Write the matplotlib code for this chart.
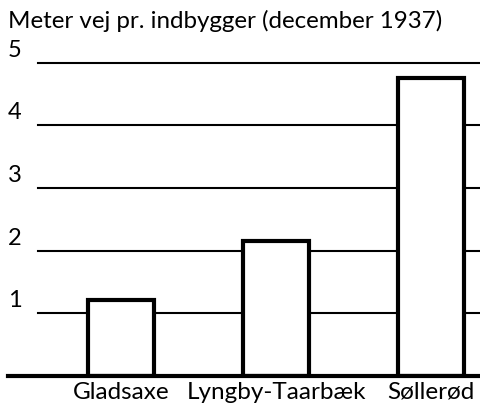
import matplotlib
matplotlib.use('Agg')
import matplotlib.pyplot as plt

# Data
kommuner = ['Gladsaxe', 'Lyngby-Taarbæk', 'Søllerød']
meter_pr_indbygger = [1.22, 2.15, 4.75]
y_ticks = [1, 2, 3, 4, 5]

plt.rcParams['font.family'] = ['Lato', 'DejaVu Sans']

fig = plt.figure(figsize=(4.8, 4.05), dpi=100)
ax = fig.add_axes([8 / 480, 29 / 405, 472 / 480, 331 / 405])

x = range(len(kommuner))
ax.bar(x, meter_pr_indbygger, width=0.42, color='white',
       edgecolor='black', linewidth=3, zorder=3)

# gridlines from a little right of the labels to the edge
for v in y_ticks:
    ax.axhline(v, xmin=0.064, xmax=1, color='black', linewidth=1.5, zorder=1)
    ax.text(0, v + 0.03, str(v), transform=ax.get_yaxis_transform(),
            ha='left', va='bottom', fontsize=17)

ax.set_xlim(-0.729, 2.316)
ax.set_ylim(0, 5.28)
ax.set_xticks(list(x))
ax.set_xticklabels(kommuner, fontsize=17.5)
ax.tick_params(axis='x', length=0, pad=4)
ax.set_yticks([])

for side in ['top', 'right', 'left']:
    ax.spines[side].set_visible(False)
ax.spines['bottom'].set_linewidth(3)
ax.spines['bottom'].set_zorder(4)

fig.text(8 / 480, 1 - 10 / 405, 'Meter vej pr. indbygger (december 1937)',
         ha='left', va='top', fontsize=17.4)

fig.savefig('out.png', dpi=100)
